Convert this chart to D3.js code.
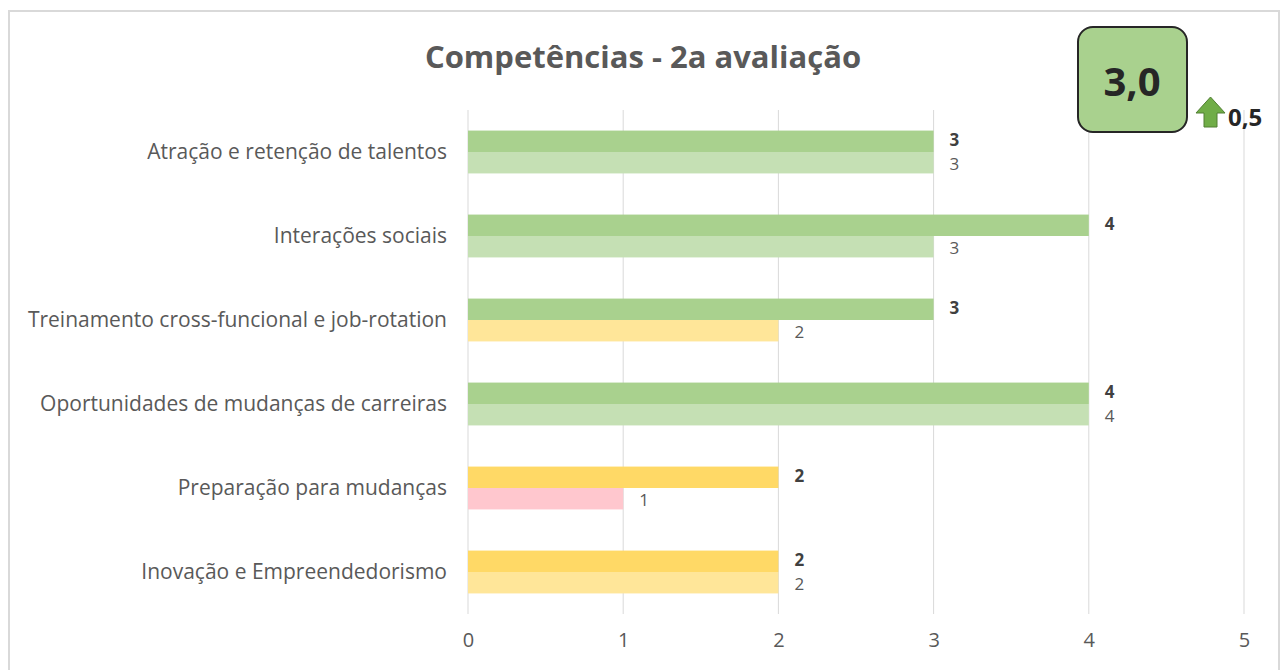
<!DOCTYPE html>
<html><head><meta charset="utf-8">
<script src="https://cdn.jsdelivr.net/npm/d3@7"></script>
<style>body{margin:0;background:#fff;} svg{display:block;font-family:"Open Sans",sans-serif;}</style>
</head><body>
<svg id="c" width="1283" height="670"></svg>
<script>
const categories = ["Atração e retenção de talentos","Interações sociais","Treinamento cross-funcional e job-rotation","Oportunidades de mudanças de carreiras","Preparação para mudanças","Inovação e Empreendedorismo"];
const current = [3,4,3,4,2,2];
const previous = [3,3,2,4,1,2];
const xTicks = [0,1,2,3,4,5];
const title = "Competências - 2a avaliação";
const scoreText = "3,0";
const deltaText = "0,5";

const svg = d3.select("#c");
svg.append("rect").attr("x",9).attr("y",11).attr("width",1270).attr("height",670).attr("fill","#fff").attr("stroke","#d9d9d9").attr("stroke-width",2);

const x = d3.scaleLinear().domain([0,5]).range([468,1244]);
const y = d3.scaleBand().domain(categories).range([110,614]).paddingInner(0.49).paddingOuter(0.245);

const darkCol = v => v>=3 ? "#A9D18E" : v==2 ? "#FFD966" : "#FF9999";
const lightCol = v => v>=3 ? "#C5E0B4" : v==2 ? "#FFE699" : "#FFC7CE";

// grid
svg.append("g").selectAll("line").data(xTicks).join("line")
  .attr("x1",d=>x(d)).attr("x2",d=>x(d)).attr("y1",110).attr("y2",614)
  .attr("stroke","#d9d9d9").attr("stroke-width",1);

const xAxis = d3.axisBottom(x).tickValues(xTicks).tickSize(0).tickPadding(0).tickFormat(d3.format("d"));
const gx = svg.append("g").attr("transform","translate(0,633)").call(xAxis);
gx.select(".domain").remove();
gx.selectAll("text").attr("fill","#595959").attr("font-size",20).attr("font-family","Open Sans").attr("dy","0.71em");

const yAxis = d3.axisLeft(y).tickSize(0).tickPadding(0);
const gy = svg.append("g").attr("transform","translate(447,0)").call(yAxis);
gy.select(".domain").remove();
gy.selectAll("text").attr("fill","#595959").attr("font-size",21).attr("font-family","Open Sans");

const bh = y.bandwidth()/2;
const g = svg.append("g");
categories.forEach((c,i)=>{
  const y0 = y(c);
  g.append("rect").attr("x",x(0)).attr("y",y0).attr("width",x(current[i])-x(0)).attr("height",bh).attr("fill",darkCol(current[i]));
  g.append("rect").attr("x",x(0)).attr("y",y0+bh).attr("width",x(previous[i])-x(0)).attr("height",bh).attr("fill",lightCol(previous[i]));
  g.append("text").attr("x",x(current[i])+16).attr("y",y0+bh/2).attr("dy","0.3em").attr("font-size",17).attr("font-weight","bold").attr("fill","#404040").text(current[i]);
  g.append("text").attr("x",x(previous[i])+16).attr("y",y0+bh*1.5+1).attr("dy","0.35em").attr("font-size",17).attr("fill","#595959").text(previous[i]);
});

svg.append("text").attr("x",643).attr("y",68).attr("text-anchor","middle").attr("font-size",31).attr("font-weight","bold").attr("fill","#595959").text(title);

svg.append("rect").attr("x",1078).attr("y",27).attr("width",109).attr("height",105).attr("rx",15).attr("fill","#A9D18E").attr("stroke","#262626").attr("stroke-width",2);
svg.append("text").attr("x",1132).attr("y",96).attr("text-anchor","middle").attr("font-size",40).attr("font-weight","bold").attr("fill","#262626").text(scoreText);

// arrow
svg.append("path").attr("d","M1210.5,97 L1225,113 L1217,113 L1217,127 L1204,127 L1204,113 L1196,113 Z").attr("fill","#70AD47").attr("stroke","#507E32").attr("stroke-width",1);
svg.append("text").attr("x",1228).attr("y",126).attr("font-size",24).attr("font-weight","bold").attr("fill","#262626").text(deltaText);
</script>
</body></html>
